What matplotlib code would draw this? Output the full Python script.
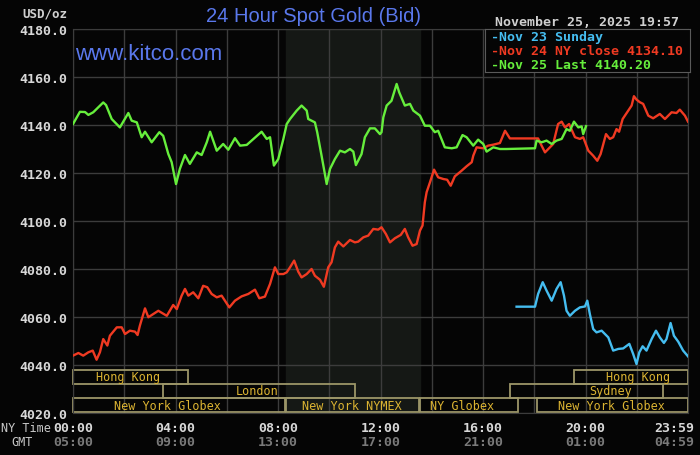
import matplotlib
matplotlib.use("Agg")
import matplotlib.pyplot as plt
import matplotlib.transforms as mtransforms
import numpy as np

# hours after NY midnight, price in USD/oz
nov25_t = [0.00, 0.27, 0.47, 0.60, 0.79, 0.99, 1.18, 1.29, 1.51, 1.83, 2.16, 2.29,
           2.49, 2.68, 2.81, 3.07, 3.37, 3.52, 3.72, 3.85, 4.02, 4.17, 4.37, 4.56,
           4.83, 5.02, 5.22, 5.35, 5.61, 5.86, 6.06, 6.32, 6.52, 6.78, 6.97, 7.36,
           7.56, 7.69, 7.84, 8.01, 8.21, 8.34, 8.47, 8.73, 8.92, 9.12, 9.18, 9.44,
           9.53, 9.70, 9.90, 10.03, 10.22, 10.42, 10.61, 10.81, 10.94, 11.04, 11.26,
           11.39, 11.59, 11.78, 11.98, 12.04, 12.11, 12.24, 12.43, 12.63, 12.73,
           12.95, 13.15, 13.28, 13.54, 13.73, 13.93, 14.12, 14.25, 14.51, 14.78,
           14.97, 15.20, 15.36, 15.62, 15.81, 16.01, 16.14, 16.40, 16.66, 16.92,
           18.03, 18.09, 18.29, 18.48, 18.68, 18.87, 19.07, 19.26, 19.39, 19.55,
           19.72, 19.85, 19.91, 20.02]
nov25_v = [4140.4, 4145.5, 4145.4, 4144.2, 4145.3, 4147.4, 4149.4, 4148.3, 4142.5,
           4139.0, 4145.0, 4141.8, 4141.1, 4134.9, 4137.2, 4132.8, 4137.0, 4135.5,
           4127.9, 4124.5, 4115.4, 4121.7, 4127.5, 4123.8, 4128.6, 4127.5, 4132.8,
           4137.2, 4129.3, 4132.1, 4129.7, 4134.5, 4131.4, 4131.7, 4133.5, 4137.2,
           4134.2, 4134.9, 4123.1, 4125.8, 4134.2, 4140.4, 4142.5, 4146.0, 4148.1,
           4146.0, 4142.5, 4141.1, 4137.0, 4127.2, 4115.4, 4121.7, 4125.8, 4129.3,
           4128.6, 4130.0, 4128.9, 4123.3, 4127.9, 4134.9, 4138.6, 4138.6, 4136.2,
           4137.0, 4143.2, 4148.1, 4150.1, 4157.1, 4153.6, 4148.1, 4148.8, 4146.0,
           4143.9, 4139.7, 4139.7, 4137.0, 4137.6, 4130.7, 4130.3, 4130.7, 4135.8,
           4134.9, 4131.4, 4133.9, 4132.1, 4128.9, 4130.7, 4130.0, 4130.0, 4130.3,
           4133.5, 4132.8, 4133.5, 4132.1, 4133.5, 4134.2, 4138.3, 4137.6, 4141.4,
           4139.0, 4139.4, 4136.2, 4139.5]

nov24_t = [0.00, 0.21, 0.40, 0.60, 0.77, 0.92, 1.05, 1.18, 1.34, 1.44, 1.71, 1.90,
           2.03, 2.22, 2.42, 2.52, 2.61, 2.81, 2.94, 3.13, 3.33, 3.66, 3.91, 4.05,
           4.24, 4.37, 4.50, 4.69, 4.89, 5.08, 5.24, 5.41, 5.61, 5.80, 6.10, 6.32,
           6.58, 6.84, 7.10, 7.27, 7.49, 7.69, 7.88, 8.01, 8.21, 8.34, 8.47, 8.63,
           8.79, 8.92, 9.12, 9.31, 9.44, 9.64, 9.79, 9.96, 10.09, 10.22, 10.35,
           10.55, 10.81, 11.00, 11.13, 11.33, 11.52, 11.72, 11.91, 12.04, 12.21,
           12.37, 12.56, 12.79, 12.95, 13.08, 13.25, 13.41, 13.54, 13.64, 13.73,
           13.80, 13.93, 14.09, 14.25, 14.45, 14.60, 14.74, 14.90, 15.17, 15.36,
           15.56, 15.62, 15.75, 16.01, 16.20, 16.40, 16.66, 16.86, 17.05, 18.15,
           18.22, 18.42, 18.61, 18.74, 18.93, 19.07, 19.20, 19.36, 19.59, 19.78,
           19.91, 20.11, 20.30, 20.46, 20.59, 20.80, 20.95, 21.08, 21.21, 21.31,
           21.45, 21.67, 21.80, 21.89, 21.99, 22.12, 22.25, 22.45, 22.64, 22.90,
           23.10, 23.36, 23.55, 23.68, 23.88, 24.00]
nov24_v = [4043.9, 4045.0, 4043.9, 4045.3, 4046.0, 4042.2, 4045.3, 4050.8, 4048.1,
           4052.2, 4055.7, 4055.7, 4052.9, 4054.3, 4053.9, 4052.5, 4056.4, 4063.6,
           4059.9, 4061.2, 4062.6, 4060.5, 4065.0, 4063.3, 4068.9, 4071.7, 4068.9,
           4070.3, 4067.8, 4073.0, 4072.4, 4069.6, 4068.2, 4068.9, 4064.0, 4066.8,
           4068.6, 4069.6, 4071.4, 4067.8, 4068.5, 4073.8, 4080.7, 4077.9, 4077.9,
           4078.6, 4080.7, 4083.5, 4078.9, 4076.5, 4077.9, 4080.0, 4077.2, 4075.5,
           4072.6, 4080.7, 4082.8, 4089.0, 4091.4, 4089.4, 4092.1, 4091.1, 4091.4,
           4093.2, 4093.9, 4096.7, 4096.4, 4097.4, 4094.6, 4091.1, 4092.8, 4094.2,
           4096.7, 4093.2, 4089.7, 4090.4, 4096.0, 4098.1, 4107.8, 4112.0, 4116.1,
           4121.4, 4118.2, 4117.5, 4117.2, 4114.7, 4118.6, 4121.0, 4122.8, 4124.5,
           4127.2, 4130.7, 4130.3, 4131.4, 4131.8, 4132.5, 4137.6, 4134.4, 4134.4,
           4132.8, 4128.6, 4130.7, 4132.1, 4140.4, 4141.4, 4139.0, 4140.4, 4134.9,
           4134.2, 4134.9, 4129.3, 4127.2, 4125.1, 4127.9, 4136.2, 4134.2, 4134.9,
           4138.3, 4137.2, 4142.5, 4146.0, 4148.1, 4152.0, 4150.6, 4149.5, 4148.8,
           4143.9, 4142.8, 4144.6, 4142.5, 4145.3, 4145.0, 4146.4, 4143.9, 4141.4]

nov23_t = [17.31, 18.03, 18.15, 18.33, 18.48, 18.68, 18.87, 19.03, 19.16, 19.26,
           19.39, 19.59, 19.78, 19.98, 20.07, 20.17, 20.30, 20.43, 20.63, 20.76,
           20.89, 21.08, 21.28, 21.47, 21.71, 21.86, 21.99, 22.10, 22.23, 22.38,
           22.58, 22.75, 22.90, 23.06, 23.16, 23.32, 23.45, 23.62, 23.81, 24.00]
nov23_v = [4064.3, 4064.3, 4069.6, 4074.5, 4071.0, 4066.8, 4071.7, 4074.5, 4068.9,
           4062.6, 4060.5, 4062.6, 4064.0, 4064.4, 4066.8, 4061.2, 4055.0, 4053.6,
           4054.3, 4052.9, 4051.5, 4046.0, 4046.7, 4046.9, 4048.8, 4044.6, 4040.4,
           4045.3, 4047.8, 4046.0, 4050.8, 4054.3, 4051.5, 4049.2, 4050.8, 4057.5,
           4052.2, 4049.7, 4046.0, 4043.6]

series_labels = ["Nov 23 Sunday", "Nov 24 NY close 4134.10", "Nov 25 Last 4140.20"]
series_colors = ["#45bdf0", "#f03a22", "#66ee3c"]

# trading sessions: name, row (0 = bottom), start hour, end hour, label centre
session_names = ["Hong Kong", "London", "New York Globex", "New York NYMEX",
                 "NY Globex", "Sydney", "New York Globex", "Hong Kong"]
session_rows = [2, 1, 0, 0, 0, 1, 0, 2]
session_start = [0.0, 3.5, 0.0, 8.33, 13.55, 17.05, 18.09, 19.55]
session_end = [4.49, 11.0, 8.27, 13.5, 17.38, 23.02, 24.0, 24.0]
session_label_at = [2.15, 7.2, 3.7, 10.9, 15.2, 21.0, 21.0, 22.05]

nymex_open, nymex_close = 8.33, 13.55

ny_ticks = [0, 4, 8, 12, 16, 20, 23.983]
ny_labels = ["00:00", "04:00", "08:00", "12:00", "16:00", "20:00", "23:59"]
gmt_labels = ["05:00", "09:00", "13:00", "17:00", "21:00", "01:00", "04:59"]

bg = "#050505"
grid_c = "#3c3c3c"
mono = "DejaVu Sans Mono"

fig = plt.figure(figsize=(7.0, 4.56), dpi=100, facecolor=bg)
ax = fig.add_axes([73 / 700, 1 - 414 / 456, 615 / 700, 384 / 456])
ax.set_facecolor(bg)
ax.set_xlim(0, 24)
ax.set_ylim(4020, 4180)

ax.axvspan(nymex_open, nymex_close, color="#151815", zorder=0)
ax.set_xticks(np.arange(0, 24.01, 2), minor=True)
ax.set_yticks(np.arange(4020, 4181, 20))
ax.set_xticks([])
ax.set_yticklabels([f"{v:.1f}" for v in np.arange(4020, 4181, 20)])
ax.grid(True, which="minor", axis="x", color=grid_c, lw=1.0, zorder=1)
ax.grid(True, which="major", axis="y", color=grid_c, lw=1.0, zorder=1)
ax.tick_params(which="both", length=0, colors="#d8d8d8", labelsize=9.5, pad=4)
for lab in ax.get_yticklabels():
    lab.set_family(mono)
    lab.set_weight("bold")
for s in ax.spines.values():
    s.set_color(grid_c)

# session bands
row_h = 5.8
for name, row, t0, t1, tc in zip(session_names, session_rows, session_start,
                                 session_end, session_label_at):
    y0 = 4020.4 + row * 5.9
    ax.add_patch(plt.Rectangle((t0, y0), t1 - t0, row_h, fill=False,
                               edgecolor="#9c9668", lw=1.3, zorder=2,
                               clip_on=False))
    ax.text(tc, y0 + row_h / 2, name, color="#dcb432", family=mono,
            fontsize=8.5, ha="center", va="center", zorder=3)

for t, v, c in zip([nov23_t, nov24_t, nov25_t], [nov23_v, nov24_v, nov25_v],
                   series_colors):
    ax.plot(t, v, color=c, lw=1.7, zorder=4)

# NY time and GMT rows under the plot
trans = mtransforms.blended_transform_factory(ax.transData, fig.transFigure)
last_shift = mtransforms.ScaledTranslation(7 / 100, 0, fig.dpi_scale_trans)
for i, (t, ny, gmt) in enumerate(zip(ny_ticks, ny_labels, gmt_labels)):
    last = i == len(ny_ticks) - 1
    tr = trans + last_shift if last else trans
    ha = "right" if last else "center"
    fig.text(t, 1 - 429 / 456, ny, transform=tr, color="#d8d8d8",
             family=mono, fontweight="bold", fontsize=9.5, ha=ha,
             va="center")
    fig.text(t, 1 - 443 / 456, gmt, transform=tr, color="#7a7a7a",
             family=mono, fontweight="bold", fontsize=9.5, ha=ha,
             va="center")
fig.text(26 / 700, 1 - 429 / 456, "NY Time", color="#c8c8c8", family=mono,
         fontsize=8.5, ha="center", va="center")
fig.text(22 / 700, 1 - 443 / 456, "GMT", color="#c8c8c8", family=mono,
         fontsize=8.5, ha="center", va="center")

fig.text(45 / 700, 1 - 14 / 456, "USD/oz", color="#d0d0d0", family=mono,
         fontweight="bold", fontsize=9, ha="center", va="center")
fig.text(313 / 700, 1 - 17 / 456, "24 Hour Spot Gold (Bid)", color="#5a78ec",
         family="Liberation Sans", fontsize=14.5, ha="center", va="center")
fig.text(75 / 700, 1 - 54 / 456, "www.kitco.com", color="#5a78ec",
         family="Liberation Sans", fontsize=16, ha="left", va="center")
fig.text(587 / 700, 1 - 22 / 456, "November 25, 2025 19:57", color="#d0d0d0",
         family=mono, fontweight="bold", fontsize=9.5, ha="center",
         va="center")

# legend box
leg = fig.add_axes([485 / 700, 1 - 73 / 456, 205 / 700, 43 / 456])
leg.set_facecolor(bg)
leg.set_xticks([])
leg.set_yticks([])
for s in leg.spines.values():
    s.set_color("#5a5a5a")
for i, (lab, c) in enumerate(zip(series_labels, series_colors)):
    leg.text(0.03, 0.83 - i * 0.325, "-" + lab, color=c, family=mono,
             fontweight="bold", fontsize=9.5, ha="left", va="center",
             transform=leg.transAxes)

fig.savefig("out.png", dpi=100, facecolor=bg)
